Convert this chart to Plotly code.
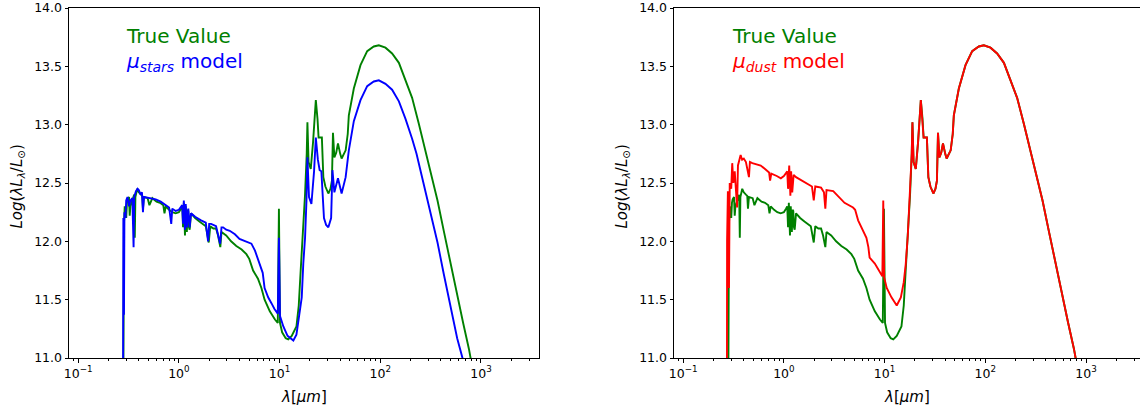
import plotly.graph_objects as go

# ---------------- data ----------------
# "True Value" SED (same curve in both panels)
true_wl = [0.280, 0.282, 0.285, 0.29, 0.295, 0.30, 0.305, 0.31, 0.32, 0.325, 0.33, 0.345, 0.36, 0.365, 0.37,
           0.386, 0.40, 0.42, 0.433, 0.44, 0.45, 0.49, 0.51, 0.546, 0.60, 0.65, 0.70, 0.72, 0.74,
           0.80, 0.86, 0.93, 1.0, 1.05, 1.08, 1.10, 1.12, 1.15, 1.17, 1.2, 1.22, 1.24, 1.26, 1.28, 1.32,
           1.45, 1.6, 1.72, 1.85, 1.98, 2.05, 2.2, 2.34, 2.45, 2.58, 2.65, 2.95, 3.3, 3.72, 4.2, 4.68,
           5.0, 5.46, 6.1, 6.6, 7.1, 7.6, 8.0, 9.0, 9.6, 9.85, 10.1, 10.6, 11.5, 12.2, 13.2,
           14.7, 15.5, 16.2, 17.0, 17.9, 18.6, 18.9, 19.4, 20.4, 21.5, 22.9, 23.8, 24.4, 26.3,
           27.2, 28.5, 30.5, 32.0, 33.1, 33.9, 35.0, 36.5, 38.0, 40.0, 41.3, 45.3, 47.5, 48.7,
           54.6, 63.6, 74.1, 86.2, 96.7, 112.6, 131.0, 153.0, 178.0, 207.0, 241.0, 281.0,
           315.0, 370.0, 427.0, 500.0, 580.0, 665.0, 758.0, 850.0, 950.0]
true_val = [10.5, 11.6, 12.15, 12.30, 12.22, 12.20, 12.33, 12.36, 12.38, 12.22, 12.30, 12.35, 12.40, 12.03, 12.38,
            12.45, 12.42, 12.40, 12.39, 12.28, 12.38, 12.37, 12.31, 12.37, 12.34, 12.33, 12.31, 12.24, 12.30,
            12.27, 12.25, 12.24, 12.25, 12.28, 12.30, 12.12, 12.33, 12.05, 12.30, 12.08, 12.27, 12.26, 12.12, 12.10, 12.24,
            12.20, 12.17, 12.15, 12.13, 11.99, 12.13, 12.11, 12.11, 12.05, 11.95, 12.08, 12.05, 12.00, 11.96, 11.93, 11.89,
            11.85, 11.75, 11.68, 11.60, 11.50, 11.45, 11.40, 11.33, 11.30, 12.28, 11.30, 11.22, 11.17, 11.16, 11.19,
            11.27, 11.45, 11.75, 12.05, 12.40, 12.75, 13.02, 12.68, 12.62, 12.85, 13.21, 13.05, 12.89, 12.89,
            12.55, 12.47, 12.41, 12.45, 12.52, 12.93, 12.72, 12.76, 12.84, 12.75, 12.71, 12.78, 12.92, 13.08,
            13.31, 13.51, 13.63, 13.67, 13.68, 13.66, 13.61, 13.53, 13.38, 13.23, 13.01, 12.77,
            12.61, 12.35, 12.09, 11.80, 11.55, 11.30, 11.08, 10.85, 10.62]

# "mu_stars model" SED (left panel)
stars_wl = [0.279, 0.2795, 0.281, 0.283, 0.285, 0.288, 0.295, 0.30, 0.309, 0.32, 0.331, 0.345,
            0.355, 0.36, 0.375, 0.389, 0.40, 0.417, 0.43, 0.44, 0.45, 0.50, 0.525, 0.589, 0.66,
            0.74, 0.80, 0.84, 0.86, 0.93, 1.0, 1.08, 1.10, 1.12, 1.15, 1.17, 1.2, 1.24, 1.28, 1.32,
            1.45, 1.66, 1.85, 1.95, 2.0, 2.09, 2.34, 2.57, 2.65, 2.75, 2.95, 3.2, 3.6, 4.0, 4.5,
            5.25, 5.7, 6.1, 6.8, 7.1, 7.7, 8.3, 8.9, 9.6, 9.85, 10.1, 10.9, 12.0, 13.7, 14.7,
            15.8, 16.6, 17.2, 17.9, 18.5, 18.9, 19.6, 20.7, 22.0, 22.9, 24.0, 25.0, 26.0, 27.6,
            29.0, 30.5, 32.5, 33.5, 35.0, 37.0, 38.0, 41.3, 45.3, 48.7, 54.6, 63.6, 74.1, 86.2,
            96.7, 112.6, 131.0, 153.0, 178.0, 207.0, 229.0, 260.0, 315.0, 370.0, 427.0, 500.0,
            580.0, 655.0, 750.0]
stars_val = [10.5, 11.37, 12.20, 12.05, 11.37, 12.25, 12.20, 12.35, 12.38, 12.30, 12.35, 12.37,
             11.95, 12.38, 12.43, 12.45, 12.44, 12.40, 12.42, 12.25, 12.38, 12.37, 12.37, 12.36, 12.34,
             12.31, 12.29, 12.15, 12.28, 12.26, 12.27, 12.31, 12.15, 12.35, 12.10, 12.32, 12.12, 12.28, 12.12, 12.24,
             12.21, 12.18, 12.16, 12.00, 12.15, 12.15, 12.13, 11.98, 12.12, 12.12, 12.10, 12.09, 12.06, 12.02, 12.00,
             11.98, 11.92, 11.84, 11.73, 11.60, 11.52, 11.47, 11.42, 11.38, 12.03, 11.36, 11.27, 11.19, 11.15, 11.20,
             11.38, 11.52, 11.81, 12.03, 12.35, 12.72, 12.38, 12.32, 12.60, 12.89, 12.70, 12.61, 12.60, 12.20,
             12.14, 12.12, 12.20, 12.61, 12.42, 12.50, 12.54, 12.41, 12.55, 12.78, 13.03, 13.21, 13.33, 13.37,
             13.38, 13.35, 13.30, 13.20, 13.05, 12.88, 12.75, 12.55, 12.26, 11.99, 11.72, 11.43,
             11.17, 11.00, 10.70]

# "mu_dust model" SED (right panel): stellar / hot-dust part, then identical to the true curve
dust_wl_short = [0.272, 0.273, 0.278, 0.282, 0.285, 0.29, 0.30, 0.307, 0.315, 0.325, 0.343, 0.35,
                 0.372, 0.385, 0.40, 0.42, 0.45, 0.46, 0.486, 0.55, 0.589, 0.65, 0.713, 0.73, 0.75,
                 0.85, 0.933, 1.0, 1.08, 1.10, 1.13, 1.16, 1.18, 1.21, 1.25, 1.32, 1.5, 1.72, 1.9, 1.98,
                 2.05, 2.34, 2.5, 2.58, 2.65, 3.09, 3.5, 4.0, 4.86, 5.1, 5.46, 6.1, 6.6, 6.9, 7.1,
                 8.0, 8.6, 9.2, 9.5, 9.7, 9.9, 10.5, 11.7, 13.2, 14.5, 15.5, 16.2]
dust_val_short = [10.5, 12.00, 12.43, 12.20, 11.60, 12.50, 12.45, 12.67, 12.50, 12.60, 12.29, 12.65,
                  12.74, 12.70, 12.71, 12.68, 12.55, 12.68, 12.67, 12.66, 12.65, 12.62, 12.59, 12.52, 12.58,
                  12.56, 12.54, 12.56, 12.60, 12.45, 12.65, 12.39, 12.60, 12.42, 12.57, 12.55, 12.52, 12.49, 12.47, 12.35,
                  12.47, 12.46, 12.42, 12.28, 12.44, 12.43, 12.38, 12.33, 12.29, 12.27, 12.18, 12.10, 12.03, 11.95, 11.86,
                  11.81, 11.76, 11.72, 11.70, 12.35, 11.69, 11.60, 11.52, 11.45, 11.52, 11.65, 11.80]
ir_start = true_wl.index(17.0)
dust_wl = dust_wl_short + true_wl[ir_start:]
dust_val = dust_val_short + true_val[ir_start:]

major_ticks = [0.1, 1, 10, 100, 1000]
major_text = ["10<sup>−1</sup>", "10<sup>0</sup>", "10<sup>1</sup>", "10<sup>2</sup>", "10<sup>3</sup>"]
minor_ticks = [m * d for d in [0.01, 0.1, 1, 10, 100, 1000] for m in range(2, 10)]

GREEN = "#008000"
BLUE = "#0000ff"
RED = "#ff0000"
FONT = "DejaVu Sans"
LW = 1.9

fig = go.Figure()
fig.add_trace(go.Scatter(x=true_wl, y=true_val, mode="lines", line=dict(color=GREEN, width=LW),
                         xaxis="x", yaxis="y", showlegend=False))
fig.add_trace(go.Scatter(x=stars_wl, y=stars_val, mode="lines", line=dict(color=BLUE, width=LW),
                         xaxis="x", yaxis="y", showlegend=False))
fig.add_trace(go.Scatter(x=true_wl, y=true_val, mode="lines", line=dict(color=GREEN, width=LW),
                         xaxis="x2", yaxis="y2", showlegend=False))
fig.add_trace(go.Scatter(x=dust_wl, y=dust_val, mode="lines", line=dict(color=RED, width=LW),
                         xaxis="x2", yaxis="y2", showlegend=False))

W, H = 1140, 412
ml, mr, mt, mb = 69, 0, 8, 54
pw = W - ml - mr
left_dom = [0, 470 / pw]
right_dom = [(674 - ml) / pw, 1]

xcommon = dict(type="log", showgrid=False, zeroline=False, showline=True, linecolor="black",
               linewidth=1, mirror=True, ticks="outside", ticklen=3.5, tickwidth=1,
               tickcolor="black", tickvals=major_ticks, ticktext=major_text,
               tickfont=dict(family=FONT, size=12.5, color="black"),
               minor=dict(ticks="outside", ticklen=2, tickwidth=0.8, tickcolor="black",
                          tickmode="array", tickvals=minor_ticks, showgrid=False))
ycommon = dict(range=[11, 14], showgrid=False, zeroline=False, showline=True, linecolor="black",
               linewidth=1, ticks="outside", ticklen=3.5, tickwidth=1, tickcolor="black",
               tickvals=[11.0, 11.5, 12.0, 12.5, 13.0, 13.5, 14.0], tickformat=".1f",
               tickfont=dict(family=FONT, size=12.5, color="black"))

fig.update_layout(
    width=W, height=H,
    margin=dict(l=ml, r=mr, t=mt, b=mb, pad=0),
    plot_bgcolor="white", paper_bgcolor="white",
    showlegend=False,
    xaxis=dict(domain=left_dom, range=[-1.091, 3.576], anchor="y", **xcommon),
    xaxis2=dict(domain=right_dom, range=[-1.091, 3.536], anchor="y2", **xcommon),
    yaxis=dict(domain=[0, 1], anchor="x", mirror=True, **ycommon),
    yaxis2=dict(domain=[0, 1], anchor="x2", mirror=False, **ycommon),
)

ylabel = "<i>Log</i>(<i>λL</i><sub><i>λ</i></sub>/<i>L</i><sub>⊙</sub>)"
xlabel = "<i>λ</i>[<i>μm</i>]"
ann = []
for xr, yr, yl_x in [("x domain", "y domain", (17 - ml) / 470), ("x2 domain", "y2 domain", (622 - 674) / 466)]:
    ann.append(dict(text=xlabel, xref=xr, yref=yr, x=0.5, y=(358 - 397) / 350, showarrow=False,
                    xanchor="center", yanchor="middle", font=dict(family=FONT, size=15, color="black")))
    ann.append(dict(text=ylabel, xref=xr, yref=yr, x=yl_x, y=0.49, showarrow=False, textangle=-90,
                    xanchor="center", yanchor="middle", font=dict(family=FONT, size=15, color="black")))

ann.append(dict(text="True Value", xref="x domain", yref="y domain", x=(124 - 69) / 470, y=(358 - 36) / 350,
                showarrow=False, xanchor="left", yanchor="middle", font=dict(family=FONT, size=20, color=GREEN)))
ann.append(dict(text="<i>μ</i><sub><i>stars</i></sub> model", xref="x domain", yref="y domain",
                x=(124 - 69) / 470, y=(358 - 62) / 350, showarrow=False, xanchor="left", yanchor="middle",
                font=dict(family=FONT, size=20, color=BLUE)))
ann.append(dict(text="True Value", xref="x2 domain", yref="y2 domain", x=(730 - 674) / 466, y=(358 - 36) / 350,
                showarrow=False, xanchor="left", yanchor="middle", font=dict(family=FONT, size=20, color=GREEN)))
ann.append(dict(text="<i>μ</i><sub><i>dust</i></sub> model", xref="x2 domain", yref="y2 domain",
                x=(730 - 674) / 466, y=(358 - 62) / 350, showarrow=False, xanchor="left", yanchor="middle",
                font=dict(family=FONT, size=20, color=RED)))
fig.update_layout(annotations=ann)

fig.write_html("out.html")
